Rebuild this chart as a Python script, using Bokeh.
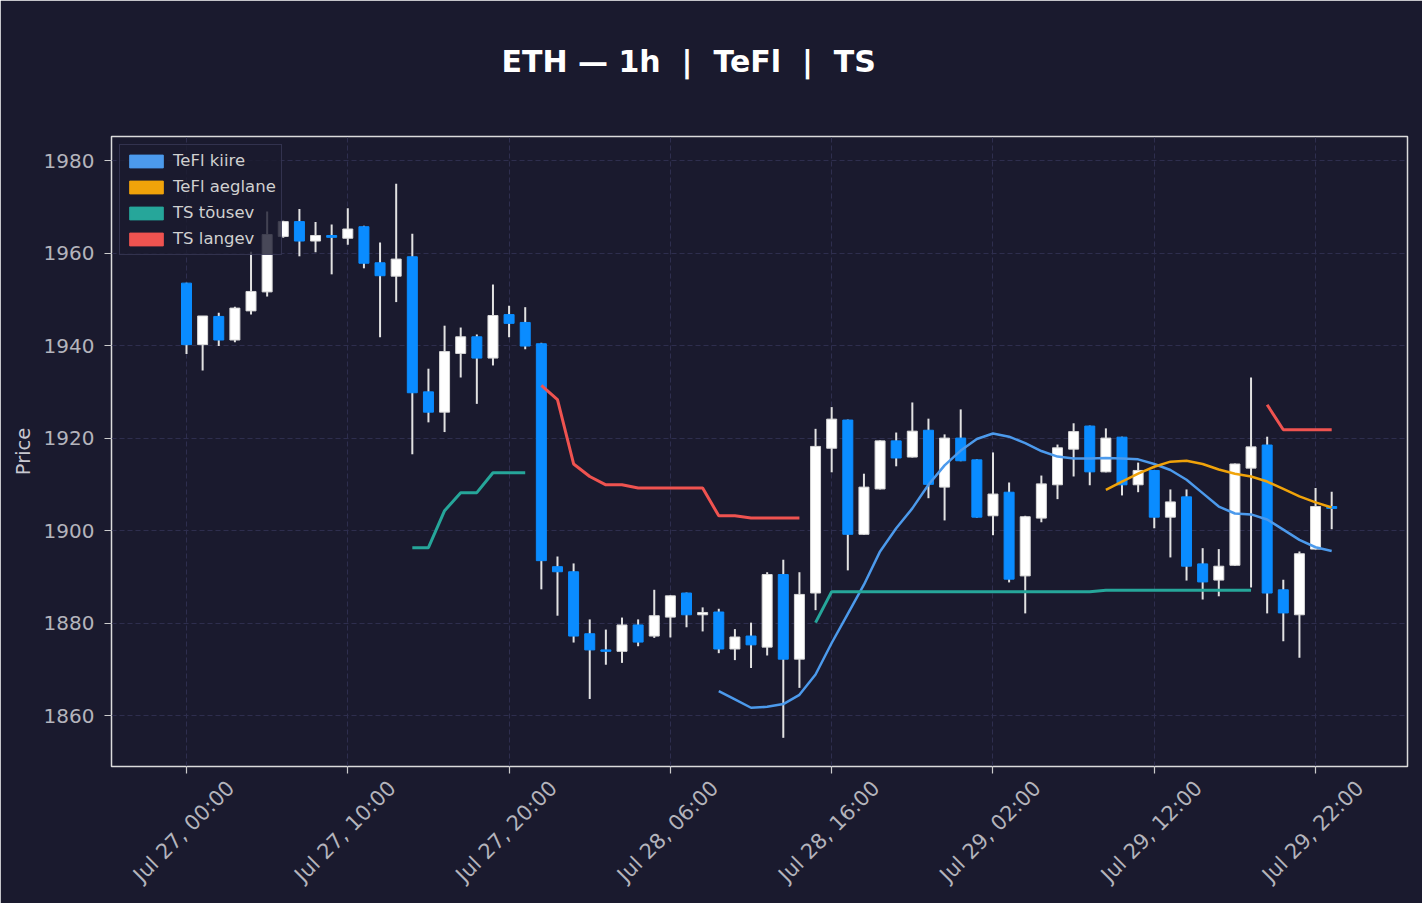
import numpy as np
import pandas as pd
from math import pi
from bokeh.plotting import figure
from bokeh.models import (Range1d, FixedTicker, Legend, LegendItem, DatetimeAxis,
                          ColumnDataSource)
from bokeh.embed import file_html
from bokeh.resources import INLINE

# ---------------- data ----------------
times = pd.date_range("2023-07-27 00:00", periods=72, freq="h")

opens = [1953.5, 1940.2, 1946.3, 1941.2, 1947.5, 1951.6, 1963.6, 1966.8, 1962.6, 1963.8,
         1963.2, 1965.7, 1957.9, 1955.0, 1959.2, 1930.0, 1925.6, 1938.3, 1941.9, 1937.3,
         1946.7, 1945.0, 1940.4, 1892.2, 1891.1, 1877.7, 1874.2, 1873.9, 1879.6, 1877.2,
         1881.3, 1886.5, 1881.8, 1882.4, 1874.4, 1877.2, 1874.8, 1890.5, 1872.2, 1886.5,
         1917.8, 1923.9, 1899.2, 1909.0, 1919.4, 1915.9, 1921.7, 1909.4, 1920.0, 1915.3,
         1903.2, 1908.3, 1890.2, 1902.7, 1909.9, 1917.6, 1922.6, 1912.7, 1920.2, 1909.9,
         1913.0, 1902.9, 1907.3, 1892.8, 1889.3, 1892.5, 1913.5, 1918.5, 1887.2, 1881.8,
         1896.0, 1905.2]
highs = [1953.6, 1946.4, 1947.1, 1948.4, 1960.3, 1969.0, 1967.0, 1969.5, 1966.7, 1966.2,
         1969.7, 1965.9, 1962.3, 1975.0, 1964.2, 1935.0, 1944.3, 1943.9, 1942.4, 1953.2,
         1948.6, 1948.3, 1940.6, 1894.4, 1892.9, 1880.8, 1878.6, 1881.2, 1880.8, 1887.2,
         1886.0, 1886.6, 1883.4, 1883.1, 1878.7, 1880.1, 1891.0, 1893.7, 1891.0, 1922.0,
         1926.7, 1924.0, 1912.3, 1919.5, 1921.2, 1927.7, 1924.2, 1920.8, 1926.2, 1915.4,
         1916.9, 1910.4, 1903.2, 1911.9, 1918.6, 1923.2, 1922.7, 1922.1, 1920.3, 1914.7,
         1913.1, 1908.9, 1908.9, 1896.2, 1896.0, 1914.5, 1933.1, 1920.3, 1889.4, 1895.5,
         1909.2, 1908.4]
lows = [1938.2, 1934.6, 1939.9, 1940.7, 1946.7, 1950.6, 1963.3, 1959.3, 1960.2, 1955.4,
        1961.8, 1956.7, 1941.8, 1949.4, 1916.5, 1923.4, 1921.3, 1933.1, 1927.4, 1935.7,
        1941.8, 1939.2, 1887.3, 1881.6, 1875.8, 1863.6, 1871.0, 1871.4, 1875.0, 1876.8,
        1876.9, 1879.1, 1878.2, 1873.5, 1872.0, 1870.3, 1873.0, 1855.2, 1866.0, 1882.8,
        1912.6, 1891.4, 1899.1, 1908.9, 1913.9, 1915.8, 1907.0, 1902.2, 1915.0, 1902.8,
        1899.0, 1888.8, 1882.1, 1901.8, 1906.8, 1911.7, 1909.8, 1912.6, 1907.6, 1908.3,
        1900.5, 1894.2, 1889.2, 1885.1, 1885.8, 1892.4, 1887.7, 1882.1, 1876.1, 1872.5,
        1895.9, 1900.3]
closes = [1940.2, 1946.4, 1941.2, 1948.1, 1951.7, 1964.0, 1966.8, 1962.6, 1963.8, 1963.4,
          1965.2, 1957.8, 1955.1, 1958.7, 1929.8, 1925.6, 1938.7, 1941.9, 1937.3, 1946.5,
          1944.8, 1939.9, 1893.5, 1891.1, 1877.2, 1874.2, 1873.9, 1879.6, 1875.9, 1881.6,
          1885.9, 1881.8, 1882.3, 1874.4, 1877.0, 1875.3, 1890.5, 1872.2, 1886.2, 1918.2,
          1924.1, 1899.2, 1909.4, 1919.4, 1915.7, 1921.5, 1910.0, 1920.0, 1915.1, 1902.9,
          1907.9, 1889.5, 1903.0, 1910.1, 1917.9, 1921.4, 1912.7, 1920.0, 1909.9, 1913.0,
          1902.9, 1906.2, 1892.3, 1888.9, 1892.3, 1914.4, 1918.1, 1886.5, 1882.2, 1895.0,
          1905.2, 1904.8]

# TeFl fast line starts at candle 33, slow line at candle 57
tefl_kiire_start = 33
tefl_kiire = [1865.3, 1863.5, 1861.7, 1861.9, 1862.5, 1864.5, 1868.9, 1875.7, 1882.0, 1888.3,
              1895.5, 1900.5, 1904.8, 1909.9, 1914.1, 1917.3, 1919.8, 1921.0, 1920.3, 1918.9,
              1917.2, 1916.0, 1915.6, 1915.6, 1915.7, 1915.6, 1915.4, 1914.4, 1913.1, 1911.0,
              1908.1, 1905.2, 1903.7, 1903.5, 1902.4, 1900.2, 1898.0, 1896.4, 1895.6]
tefl_aeglane_start = 57
tefl_aeglane = [1908.8, 1910.6, 1912.3, 1913.8, 1914.9, 1915.1, 1914.4, 1913.2, 1912.3, 1911.7,
                1910.6, 1909.0, 1907.4, 1906.1, 1905.0]

# TS segments: (start candle, values)
ts_tousev = [
    (14, [1896.3, 1896.3, 1904.3, 1908.2, 1908.2, 1912.5, 1912.5, 1912.5]),
    (39, [1880.1, 1886.8, 1886.8, 1886.8, 1886.8, 1886.8, 1886.8, 1886.8, 1886.8, 1886.8,
          1886.8, 1886.8, 1886.8, 1886.8, 1886.8, 1886.8, 1886.8, 1886.8, 1887.1, 1887.1,
          1887.1, 1887.1, 1887.1, 1887.1, 1887.1, 1887.1, 1887.1, 1887.1]),
]
ts_langev = [
    (22, [1931.4, 1928.3, 1914.4, 1911.7, 1909.9, 1909.9, 1909.2, 1909.2, 1909.2, 1909.2,
          1909.2, 1903.2, 1903.2, 1902.7, 1902.7, 1902.7, 1902.7]),
    (67, [1927.2, 1921.8, 1921.8, 1921.8, 1921.8]),
]

y_ticks = [1860, 1880, 1900, 1920, 1940, 1960, 1980]
x_tick_labels = ["Jul 27, 00:00", "Jul 27, 10:00", "Jul 27, 20:00", "Jul 28, 06:00",
                 "Jul 28, 16:00", "Jul 29, 02:00", "Jul 29, 12:00", "Jul 29, 22:00"]
x_tick_hours = [0, 10, 20, 30, 40, 50, 60, 70]

# non-breaking spaces keep the doubled gaps around the bars
title_text = "ETH \u2014 1h \u00a0|\u00a0 TeFl \u00a0|\u00a0 TS"
legend_labels = ["TeFl kiire", "TeFl aeglane", "TS t\u00f5usev", "TS langev"]

# ---------------- styles ----------------
BG = "#1a1a2e"
UP = "#ffffff"
DOWN = "#0a8cff"
WICK = "#e2e2e2"
C_KIIRE = "#4c9aec"
C_AEG = "#f0a30a"
C_TOUS = "#26a69a"
C_LANG = "#ef5350"
GRID = "#2e2e4e"
TXT = "#b4b4bc"
FONT = "DejaVu Sans"

HOUR = 3600 * 1000
t_ms = np.array([t.value // 10**6 for t in times], dtype=float)
t0 = t_ms[0]

p = figure(width=1422, height=903, x_axis_type="datetime",
           output_backend="svg", toolbar_location=None,
           x_range=Range1d(t0 - 4.65 * HOUR, t0 + 75.7 * HOUR),
           y_range=Range1d(1849.0, 1985.2),
           background_fill_color=BG, border_fill_color=BG,
           min_border_left=111, min_border_right=15,
           min_border_top=136, min_border_bottom=137)

p.outline_line_color = "#dcdcdc"
p.outline_line_width = 1.5

# title (bottom padding lifts it away from the frame without enlarging the top border)
p.title.text = title_text
p.title.align = "left"
p.title.offset = 390
p.title.standoff = 0
try:
    p.title.padding = dict(left=0, right=0, top=0, bottom=58)
except Exception:
    p.title.padding = (0, 0, 58, 0)
p.title.text_font = FONT
p.title.text_font_size = "30px"
p.title.text_font_style = "bold"
p.title.text_color = "#ffffff"

# grid
tick_vals = [t0 + h * HOUR for h in x_tick_hours]
for g in (p.xgrid, p.ygrid):
    g.grid_line_color = GRID
    g.grid_line_dash = "5 3"
    g.grid_line_width = 1
p.xgrid.ticker = FixedTicker(ticks=tick_vals)

# axes: main x axis only carries the tick marks (as minor ticks, no labels)
p.yaxis.ticker = FixedTicker(ticks=y_ticks)
p.xaxis.ticker = FixedTicker(ticks=[], minor_ticks=tick_vals)
p.xaxis.minor_tick_line_color = "#cccccc"
p.xaxis.minor_tick_out = 7
p.xaxis.minor_tick_in = 0
p.xaxis.minor_tick_line_width = 1.2
p.xaxis.axis_line_color = None
p.xaxis.major_label_standoff = 0

p.yaxis.axis_line_color = None
p.yaxis.major_tick_line_color = "#cccccc"
p.yaxis.major_tick_line_width = 1.2
p.yaxis.major_tick_out = 7
p.yaxis.major_tick_in = 0
p.yaxis.minor_tick_line_color = None
p.yaxis.major_label_text_color = TXT
p.yaxis.major_label_text_font = FONT
p.yaxis.major_label_text_font_size = "20px"
p.yaxis.major_label_standoff = 10
p.yaxis.axis_label = "Price"
p.yaxis.axis_label_text_font = FONT
p.yaxis.axis_label_text_font_size = "19.5px"
p.yaxis.axis_label_text_font_style = "normal"
p.yaxis.axis_label_text_color = "#c8c8d0"
p.yaxis.axis_label_standoff = 6

# second x axis carrying rotated labels, shifted so they sit centred on the ticks
SHIFT = round(2.75 * HOUR)
lab_vals = [v + SHIFT for v in tick_vals]
lab_axis = DatetimeAxis(ticker=FixedTicker(ticks=lab_vals),
                        major_label_overrides={v: s for v, s in zip(lab_vals, x_tick_labels)},
                        major_label_orientation=pi / 4,
                        axis_line_color=None, major_tick_line_color=None,
                        minor_tick_line_color=None,
                        major_label_standoff=5,
                        major_label_text_font=FONT, major_label_text_font_size="21px",
                        major_label_text_color=TXT)
p.add_layout(lab_axis, "below")

# candles
inc = [c >= o for o, c in zip(opens, closes)]
src = ColumnDataSource(dict(
    x=t_ms, o=opens, h=highs, l=lows, c=closes,
    top=[max(o, c) for o, c in zip(opens, closes)],
    bot=[min(o, c) for o, c in zip(opens, closes)],
    fill=[UP if u else DOWN for u in inc],
    line=["#d8d8d8" if u else DOWN for u in inc],
))
p.segment(x0="x", y0="h", x1="x", y1="l", source=src, line_color=WICK, line_width=2)
p.vbar(x="x", width=0.62 * HOUR, top="top", bottom="bot", source=src,
       fill_color="fill", line_color="line", line_width=1)

# indicator lines
def seg_x(start, vals):
    return t_ms[start:start + len(vals)]

p.line(seg_x(tefl_kiire_start, tefl_kiire), tefl_kiire, line_color=C_KIIRE, line_width=2.5)
p.line(seg_x(tefl_aeglane_start, tefl_aeglane), tefl_aeglane, line_color=C_AEG, line_width=2.5)
for s, v in ts_tousev:
    p.line(seg_x(s, v), v, line_color=C_TOUS, line_width=3)
for s, v in ts_langev:
    p.line(seg_x(s, v), v, line_color=C_LANG, line_width=3)

# legend with patch glyphs (dummy quads placed outside the visible range)
items = []
far = t0 - 1000 * HOUR
for lab, col in zip(legend_labels, [C_KIIRE, C_AEG, C_TOUS, C_LANG]):
    r = p.quad(left=[far], right=[far + HOUR], top=[1900], bottom=[1899],
               fill_color=col, line_color=col)
    items.append(LegendItem(label=lab, renderers=[r]))
leg = Legend(items=items, location="top_left")
leg.margin = 8
leg.padding = 5
leg.spacing = 5
leg.label_height = 21
leg.glyph_height = 16
leg.glyph_width = 42
leg.label_standoff = 6
leg.label_text_font = FONT
leg.label_text_font_size = "16.5px"
leg.label_text_color = "#d0d0d0"
leg.background_fill_color = BG
leg.background_fill_alpha = 0.8
leg.border_line_color = "#4a4a6e"
leg.border_line_width = 1.5
p.add_layout(leg, "center")

open("out.html", "w").write(file_html(p, INLINE))
